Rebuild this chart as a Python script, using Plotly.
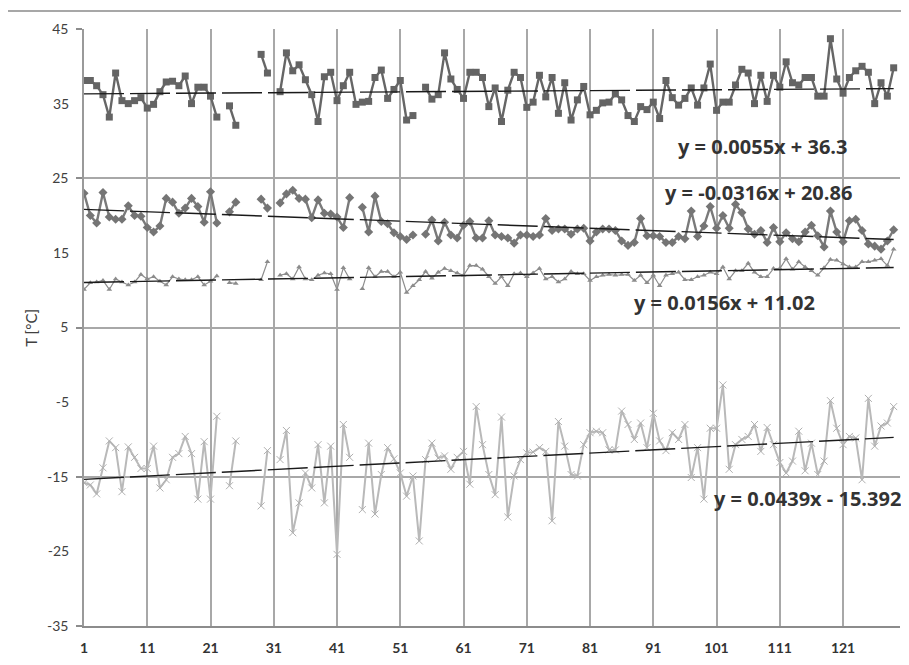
import plotly.graph_objects as go

N = None
x_idx = list(range(1, 130))

squares = [38.1, 38.1, 37.4, 36.2, 33.2, 39.1, 35.4, 35.0, 35.4, 35.8,
           34.4, 34.9, 36.6, 37.9, 38.0, 37.4, 38.7, 35.0, 37.2, 37.2,
           36.0, 33.2, N, 34.7, 32.1, N, N, N, 41.6, 39.1,
           N, 36.6, 41.8, 39.4, 40.2, 38.2, 36.2, 32.6, 38.6, 39.2,
           35.4, 37.4, 39.2, 34.9, 35.2, 35.3, 38.5, 39.5, 35.7, 36.9,
           38.1, 32.8, 33.4, N, 37.2, 35.6, 36.2, 41.8, 38.3, 36.9,
           35.7, 39.2, 39.2, 38.5, 34.6, 37.1, 32.6, 36.8, 39.2, 38.5,
           34.5, 35.2, 38.8, 35.9, 38.5, 33.7, 37.8, 32.8, 35.5, 37.3,
           33.5, 34.1, 35.1, 35.2, 36.3, 35.5, 33.4, 32.6, 34.6, 34.2,
           35.2, 33.0, 38.1, 35.8, 34.8, 35.7, 37.1, 34.8, 37.1, 40.3,
           34.1, 35.2, 35.2, 37.5, 39.6, 39.1, 35.0, 38.8, 35.3, 38.8,
           37.2, 40.6, 37.8, 37.5, 38.5, 38.5, 36.0, 36.0, 43.7, 38.3,
           36.4, 38.5, 39.4, 40.0, 39.2, 35.0, 37.8, 36.0, 39.8]

diamonds = [23.0, 20.0, 19.0, 23.1, 19.8, 19.5, 19.5, 21.3, 20.0, 19.9,
            18.4, 17.8, 18.6, 22.3, 21.8, 20.3, 21.0, 22.3, 21.2, 19.1,
            23.2, 19.0, N, 20.5, 21.8, N, N, N, 22.2, 21.0,
            N, 21.7, 22.9, 23.4, 22.3, 22.2, 19.7, 22.1, 20.3, 20.2,
            19.8, 18.4, 22.4, N, 21.1, 17.8, 22.6, 19.2, 18.9, 17.7,
            17.2, 16.8, 17.4, N, 17.5, 19.4, 16.6, 19.1, 17.4, 17.0,
            18.7, 19.2, 17.0, 17.0, 19.3, 17.4, 17.2, 17.0, 16.3, 17.4,
            17.4, 17.2, 17.4, 19.6, 18.0, 18.2, 18.2, 17.5, 18.2, 18.3,
            16.6, 17.8, 18.2, 18.2, 18.0, 16.6, 16.0, 16.4, 19.6, 17.3,
            17.3, 17.2, 16.4, 16.4, 17.2, 16.9, 20.6, 17.2, 18.6, 21.2,
            18.3, 20.0, 18.3, 21.5, 20.4, 18.2, 17.5, 18.0, 16.4, 18.4,
            16.5, 17.7, 16.9, 16.5, 17.8, 18.7, 17.3, 15.8, 20.6, 17.8,
            16.5, 19.3, 19.5, 18.0, 16.2, 15.9, 15.5, 16.6, 18.1]

triangles = [10.1, 11.0, 11.1, 11.3, 10.1, 11.5, 11.1, 10.7, 11.1, 12.1,
             11.5, 11.8, 11.2, 10.7, 11.8, 11.5, 11.4, 11.4, 11.8, 10.7,
             11.2, 11.9, N, 11.0, 10.9, N, N, N, 11.4, 13.8,
             N, 12.0, 12.2, 11.5, 13.1, 11.5, 11.4, 12.0, 12.3, 12.2,
             10.1, 13.0, 11.5, N, 10.2, 13.0, 11.8, 12.5, 12.5, 11.8,
             12.4, 9.7, 10.6, 11.4, 12.5, 11.6, 12.4, 12.9, 12.6, 12.3,
             12.0, 13.3, 13.3, 12.8, 11.8, 10.9, 11.8, 10.6, 12.2, 12.3,
             11.8, 12.3, 12.9, 11.5, 11.8, 11.1, 11.5, 12.5, 12.2, 12.2,
             11.3, 11.8, 12.0, 12.1, 12.0, 12.1, 12.1, 11.3, 12.0, 11.0,
             12.0, 10.6, 12.0, 12.2, 12.4, 11.4, 11.4, 11.8, 12.0, 12.4,
             12.2, 13.1, 11.5, 12.6, 12.6, 13.6, 12.4, 11.8, 11.8, 12.9,
             12.9, 14.2, 12.8, 13.8, 13.1, 12.6, 12.0, 13.0, 14.1, 14.0,
             13.5, 13.1, 13.1, 13.8, 13.8, 14.0, 14.2, 13.3, 15.5]

crosses = [-15.8, -16.1, -17.3, -13.8, -10.2, -11.1, -17.0, -11.0, -12.4, -13.9,
           -13.9, -10.9, -16.5, -15.4, -12.4, -11.9, -9.6, -11.9, -18.0, -10.3,
           -18.0, -6.9, N, -16.2, -10.2, N, N, N, -18.9, -11.5,
           N, -12.7, -8.8, -22.5, -18.5, -14.5, -16.5, -10.7, -18.5, -10.9,
           -25.4, -8.0, -12.4, N, -19.4, -10.5, -20.0, -14.7, -11.1, -12.6,
           -14.5, -17.6, -14.9, -23.6, -12.7, -10.5, -12.5, -12.2, -14.0, -12.4,
           -11.6, -16.0, -5.6, -10.7, -14.7, -17.4, -7.0, -20.4, -14.9, -12.7,
           -11.8, -11.7, -11.1, -11.6, -20.9, -7.6, -10.9, -14.7, -14.9, -10.7,
           -9.1, -8.9, -9.1, -11.4, -11.4, -6.2, -8.0, -10.0, -7.8, -11.1,
           -6.5, -10.2, -11.5, -9.1, -10.0, -8.0, -15.1, -11.1, -18.0, -8.5,
           -8.5, -2.7, -14.0, -10.7, -10.0, -9.6, -8.0, -11.6, -8.4, -10.7,
           -13.1, -14.5, -12.9, -8.9, -14.2, -10.5, -14.7, -12.9, -4.8, -8.5,
           -10.7, -9.6, -9.8, -15.4, -4.5, -10.9, -8.2, -7.8, -5.6]

# trend line coefficients (as printed on the chart)
slopes = [0.0055, -0.0316, 0.0156, 0.0439]
intercepts = [36.3, 20.86, 11.02, -15.392]
eq_texts = ["y = 0.0055x + 36.3", "y = -0.0316x + 20.86",
            "y = 0.0156x + 11.02", "y = 0.0439x - 15.392"]
eq_x = [108.2, 107.6, 102.3, 115.4]
eq_y = [29.3, 23.1, 8.3, -17.9]

x_ticks = list(range(1, 130, 10))
y_major = [45, 25, 5, -15, -35]
y_minor = [35, 15, -5, -25]

FONT = "Lato, 'Open Sans', sans-serif"
EQFONT = "'Open Sans', Lato, sans-serif"

fig = go.Figure()

fig.add_trace(go.Scatter(x=x_idx, y=crosses, mode="lines+markers",
                         line=dict(color="#b9b9b9", width=2),
                         marker=dict(symbol="x-thin", size=7,
                                     line=dict(color="#b0b0b0", width=1)),
                         connectgaps=False, showlegend=False))
fig.add_trace(go.Scatter(x=x_idx, y=triangles, mode="lines+markers",
                         line=dict(color="#8c8c8c", width=1.2),
                         marker=dict(symbol="triangle-up", size=5, color="#8c8c8c"),
                         connectgaps=False, showlegend=False))
fig.add_trace(go.Scatter(x=x_idx, y=diamonds, mode="lines+markers",
                         line=dict(color="#7a7a7a", width=2.4),
                         marker=dict(symbol="diamond", size=7, color="#757575"),
                         connectgaps=False, showlegend=False))
fig.add_trace(go.Scatter(x=x_idx, y=squares, mode="lines+markers",
                         line=dict(color="#666666", width=2.4),
                         marker=dict(symbol="square", size=7, color="#646464"),
                         connectgaps=False, showlegend=False))

for m, b in zip(slopes, intercepts):
    fig.add_trace(go.Scatter(x=x_idx, y=[m * xi + b for xi in x_idx], mode="lines",
                             line=dict(color="#1a1a1a", width=1.4, dash="40px,6px"),
                             yaxis="y2", showlegend=False, hoverinfo="skip"))

for t, ex, ey in zip(eq_texts, eq_x, eq_y):
    fig.add_annotation(x=ex, y=ey, text=t, showarrow=False, xref="x", yref="y",
                       xanchor="center", yanchor="middle",
                       font=dict(family=EQFONT, size=20, color="#333333", weight="bold"))

fig.add_annotation(x=-0.066, y=0.5, xref="paper", yref="paper", text="T [°C]",
                   textangle=-90, showarrow=False, xanchor="center", yanchor="middle",
                   font=dict(family=FONT, size=15, color="#404040"))

fig.add_shape(type="line", xref="paper", yref="paper", x0=-0.094, x1=1.02,
              y0=1.03, y1=1.03, line=dict(color="#8a8a8a", width=1.5))

fig.update_layout(
    width=901, height=657,
    margin=dict(l=76, r=9, t=21, b=36),
    paper_bgcolor="white", plot_bgcolor="white",
    font=dict(family=FONT, color="#404040"),
    xaxis=dict(range=[1, 130], tickmode="array", tickvals=x_ticks,
               showgrid=True, gridcolor="#a8a8a8", gridwidth=1.5,
               showline=True, linecolor="#8c8c8c", linewidth=1.5,
               zeroline=False, ticks="", ticklen=0, ticklabelstandoff=8,
               tickfont=dict(family=FONT, size=14, color="#333333", weight="bold")),
    yaxis=dict(range=[-35, 45], tickmode="array", tickvals=y_major,
               ticktext=[str(v) for v in y_major],
               showgrid=True, gridcolor="#a8a8a8", gridwidth=1.5,
               showline=True, linecolor="#9a9a9a", linewidth=1.5,
               zeroline=False, ticks="outside", ticklen=6, tickcolor="#8c8c8c",
               tickwidth=1.5, ticklabelstandoff=5,
               tickfont=dict(family=FONT, size=14, color="#404040")),
    yaxis2=dict(range=[-35, 45], overlaying="y", side="left", tickmode="array",
                tickvals=y_minor, ticktext=[str(v) for v in y_minor],
                showgrid=False, zeroline=False, showline=False,
                ticks="outside", ticklen=6, tickcolor="rgba(0,0,0,0)",
                ticklabelstandoff=5,
                tickfont=dict(family=FONT, size=14, color="#404040")),
)

fig.write_html("out.html")
